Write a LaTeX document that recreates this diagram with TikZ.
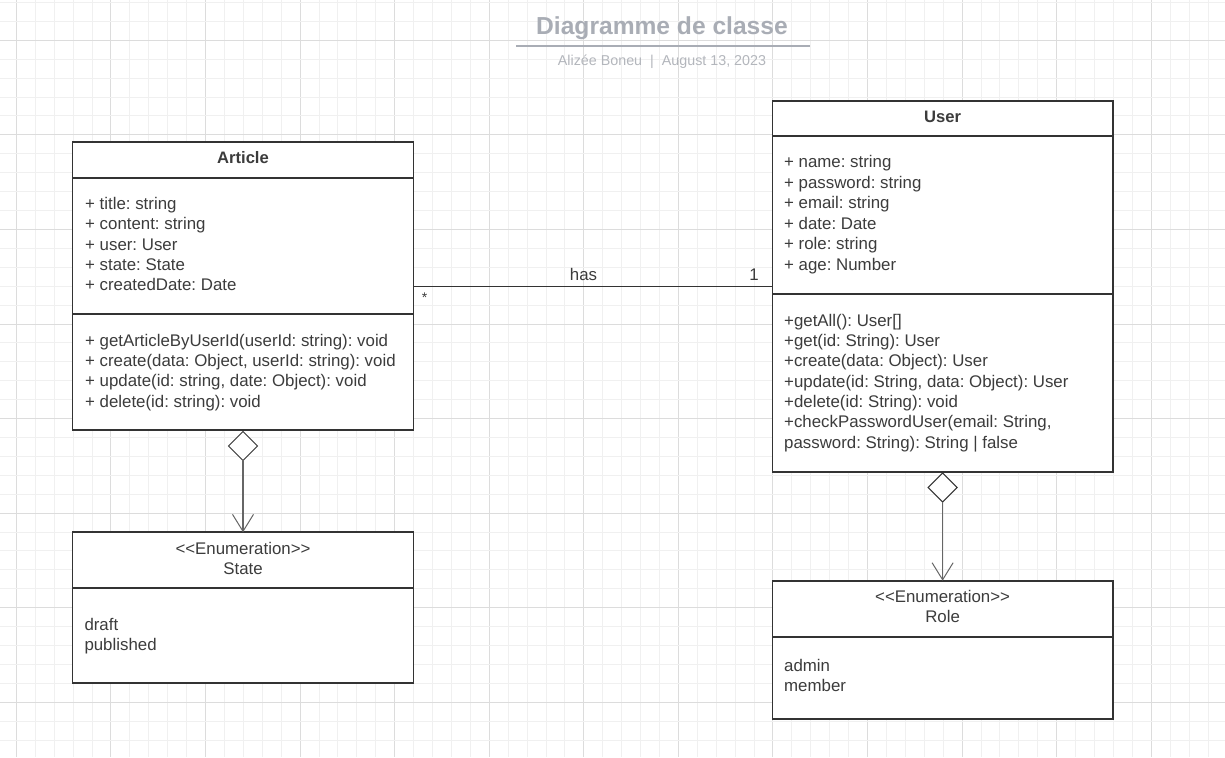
\documentclass[tikz,border=0pt]{standalone}
\usepackage{fontspec}
\setmainfont{Liberation Sans}
\usetikzlibrary{shapes.geometric,arrows.meta}
\definecolor{txtc}{HTML}{3C3C3C}
\definecolor{linec}{HTML}{333333}
\definecolor{gridminor}{HTML}{F0F0F0}
\definecolor{gridmajor}{HTML}{DCDCDC}
\definecolor{titlec}{HTML}{A9ADB5}
\definecolor{subc}{HTML}{B3B6BC}
\definecolor{arrc}{HTML}{666666}
\tikzset{
  umlbox/.style={draw=linec, line width=1.9pt, fill=white, minimum width=#1, inner sep=0pt, outer sep=0pt, anchor=north west},
  divider/.style={draw=linec, line width=1.9pt},
  txt/.style={text=txtc, font=\fontsize{16.85}{20}\selectfont, inner sep=0pt, anchor=base west},
  hdr/.style={text=txtc, font=\fontsize{16.6}{20}\selectfont\bfseries, inner sep=0pt, anchor=base},
  ctr/.style={text=txtc, font=\fontsize{16.85}{20}\selectfont, inner sep=0pt, anchor=base},
  agg/.style={shape=diamond, draw=linec, line width=1pt, fill=white, minimum width=29pt, minimum height=29pt, inner sep=0pt, outer sep=0pt, anchor=north},
  link/.style={draw=arrc, line width=1.2pt, -{Straight Barb[length=17pt,width=21pt,line width=1pt]}},
}
\frenchspacing
\begin{document}
\begin{tikzpicture}[x=1pt,y=-1pt]
\useasboundingbox (0,0) rectangle (1225,757);
\fill[white] (0,0) rectangle (1225,757);
\begin{scope}
\clip (0,0) rectangle (1225,757);
\foreach \k in {0,...,64} {
  \pgfmathsetmacro\xx{16.4+18.914*\k}
  \pgfmathtruncatemacro\mm{mod(\k,5)}
  \ifnum\mm=0 \draw[gridmajor, line width=1pt] (\xx,0) -- (\xx,757);
  \else \draw[gridminor, line width=1pt] (\xx,0) -- (\xx,757); \fi
}
\foreach \k in {0,...,40} {
  \pgfmathsetmacro\yy{2.47+18.914*\k}
  \pgfmathtruncatemacro\mm{mod(\k+3,5)}
  \ifnum\mm=0 \draw[gridmajor, line width=1pt] (0,\yy) -- (1225,\yy);
  \else \draw[gridminor, line width=1pt] (0,\yy) -- (1225,\yy); \fi
}
\end{scope}

% title
\node[text=titlec, font=\fontsize{24.6}{28}\selectfont\bfseries, inner sep=0pt, anchor=base] (title) at (662,34.5) {Diagramme de classe};
\coordinate (ulA) at (516,46);
\coordinate (ulB) at (810,46);
\draw[titlec, line width=2pt] (ulA) -- (ulB);
\node[text=subc, font=\fontsize{14.3}{17}\selectfont, inner sep=0pt, anchor=base] (sub) at (662,66) {Alizée Boneu\hspace{8pt}|\hspace{8pt}August 13, 2023};

% Article
\node[umlbox=341pt, minimum height=288pt] (article) at (72.5,142.3) {};
\draw[divider] (article.west |- 0,177.7) -- (article.east |- 0,177.7);
\draw[divider] (article.west |- 0,314) -- (article.east |- 0,314);
\node[hdr] (articleName) at (243,163.3) {Article};
\foreach \t [count=\i] in {{+ title: string},{+ content: string},{+ user: User},{+ state: State},{+ createdDate: Date}}
  \node[txt] (aattr\i) at (85,{209.3+20.35*(\i-1)}) {\t};
\foreach \t [count=\i] in {{+ getArticleByUserId(userId: string): void},{+ create(data: Object, userId: string): void},{+ update(id: string, date: Object): void},{+ delete(id: string): void}}
  \node[txt] (aop\i) at (85,{346+20.4*(\i-1)}) {\t};

% User
\node[umlbox=340.3pt, minimum height=371.3pt] (user) at (772.5,100.7) {};
\draw[divider] (user.west |- 0,135.7) -- (user.east |- 0,135.7);
\draw[divider] (user.west |- 0,294) -- (user.east |- 0,294);
\node[hdr] (userName) at (942.6,122.3) {User};
\foreach \t [count=\i] in {{+ name: string},{+ password: string},{+ email: string},{+ date: Date},{+ role: string},{+ age: Number}}
  \node[txt] (uattr\i) at (784,{167.7+20.46*(\i-1)}) {\t};
\foreach \t [count=\i] in {{+getAll(): User[]},{+get(id: String): User},{+create(data: Object): User},{+update(id: String, data: Object): User},{+delete(id: String): void},{+checkPasswordUser(email: String,},{password: String): String | false}}
  \node[txt] (uop\i) at (784,{326+20.38*(\i-1)}) {\t};

% State
\node[umlbox=341pt, minimum height=151pt] (state) at (72.5,532.3) {};
\draw[divider] (state.west |- 0,588.3) -- (state.east |- 0,588.3);
\node[ctr] (stateSt) at (243,554) {{<}{<}Enumeration{>}{>}};
\node[ctr] (stateName) at (243,574.3) {State};
\node[txt] (sv1) at (84.3,630) {draft};
\node[txt] (sv2) at (84.3,650.3) {published};

% Role
\node[umlbox=340.3pt, minimum height=138.6pt] (role) at (772.5,580.7) {};
\draw[divider] (role.west |- 0,636.7) -- (role.east |- 0,636.7);
\node[ctr] (roleSt) at (942.6,602.3) {{<}{<}Enumeration{>}{>}};
\node[ctr] (roleName) at (942.6,622.7) {Role};
\node[txt] (rv1) at (784,671.7) {admin};
\node[txt] (rv2) at (784,691.7) {member};

% association
\draw[linec, line width=1pt] (article.east |- 0,286) -- (user.west |- 0,286);
\node[ctr] (has) at (583.5,280.5) {has};
\node[ctr] (one) at (754,280.5) {1};
\node[text=txtc, font=\fontsize{14}{16}\selectfont, inner sep=0pt] (star) at (424.5,298) {*};

% aggregations
\node[agg] (d1) at (243,431.5) {};
\draw[link] (d1.south) -- (state.north -| d1.south);
\node[agg] (d2) at (942.6,473) {};
\draw[link] (d2.south) -- (role.north -| d2.south);
\end{tikzpicture}
\end{document}
